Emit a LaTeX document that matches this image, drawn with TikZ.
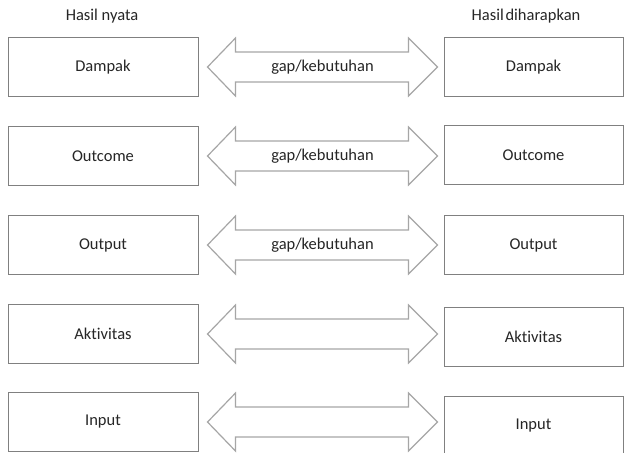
\documentclass[tikz,border=0pt]{standalone}
\usepackage{fontspec}
\setmainfont{Carlito}[RawFeature={-liga}]
\usetikzlibrary{calc}
\definecolor{boxline}{HTML}{808080}
\definecolor{arrowline}{HTML}{A6A6A6}
\definecolor{ink}{HTML}{262626}
\begin{document}
\begin{tikzpicture}[x=0.5pt,y=-0.5pt,
  every node/.style={font=\fontsize{8.25}{10}\selectfont, text=ink},
  levelbox/.style={draw=boxline, line width=0.5pt, rectangle, inner sep=0pt,
    minimum width=95pt, minimum height=29.5pt},
  goalbox/.style={draw=boxline, line width=0.5pt, rectangle, inner sep=0pt,
    minimum width=89.5pt, minimum height=29.5pt},
  gaparrow/.style={draw=arrowline, line width=0.6pt, fill=white, line join=miter},
  title/.style={inner sep=0pt}
]
\clip (0,0) rectangle (624,452);
\fill[white] (0,0) rectangle (624,452);

% column headings
\node[title] (hl) at (102,16) {Hasil nyata};
\node[title] (hr) at (526,16) {Hasil\hspace{0.1em}diharapkan};

% actual results (left column)
\node[levelbox] (L1) at (103,67)  {Dampak};
\node[levelbox] (L2) at (103,156) {Outcome};
\node[levelbox] (L3) at (103,245) {Output};
\node[levelbox] (L4) at (103,334) {Aktivitas};
\node[levelbox] (L5) at (103,422) {Input};

% expected results (right column)
\node[goalbox] (R1) at (533.5,67)  {Dampak};
\node[goalbox] (R2) at (533.5,155) {Outcome};
\node[goalbox] (R3) at (533.5,245) {Output};
\node[goalbox] (R4) at (533.5,337) {Aktivitas};
\node[goalbox] (R5) at (533.5,426) {Input};

% two-headed block arrows between the columns
\foreach \k/\lab in {1/gap\slash kebutuhan, 2/gap\slash kebutuhan, 3/gap\slash kebutuhan, 4/, 5/}{
  \draw[gaparrow]
    ($(L\k.east)+(9,0)$) -- ($(L\k.east)+(37,-29)$) -- ($(L\k.east)+(37,-15)$)
    -- ($(L\k.east)+(210,-15)$) -- ($(L\k.east)+(210,-29)$) -- ($(L\k.east)+(239,0)$)
    -- ($(L\k.east)+(210,29)$) -- ($(L\k.east)+(210,15)$) -- ($(L\k.east)+(37,15)$)
    -- ($(L\k.east)+(37,29)$) -- cycle;
  \node[inner sep=0pt] (G\k) at ($(L\k.east)+(124,0)$) {\lab};
}
\end{tikzpicture}
\end{document}
